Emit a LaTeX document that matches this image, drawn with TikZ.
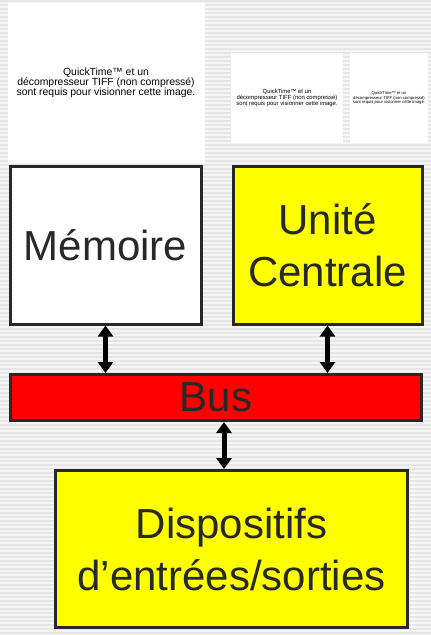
\documentclass[tikz,border=0pt]{standalone}
\usepackage{fontspec}
\setmainfont{Liberation Sans}
\usetikzlibrary{arrows.meta,positioning}
\definecolor{jaune}{RGB}{255,255,0}
\definecolor{rouge}{RGB}{255,0,0}
\definecolor{trait}{RGB}{40,40,40}
\definecolor{fond}{RGB}{245,245,245}
\definecolor{raie}{RGB}{230,230,230}
\tikzset{
  bloc/.style={draw=trait, text=trait, line width=3pt, align=center, inner sep=0pt, font=\fontsize{42}{52}\selectfont},
  mem/.style={bloc, fill=white},
  cpu/.style={bloc, fill=jaune},
  bus/.style={bloc, fill=rouge},
  es/.style={bloc, fill=jaune},
  image/.style={fill=white, align=center, inner sep=0pt},
  arrow/.style={{Triangle[width=15pt,length=11pt]}-{Triangle[width=15pt,length=11pt]}, line width=5pt}
}

\begin{document}
\begin{tikzpicture}[x=1pt, y=-1pt]
    \useasboundingbox (0,0) rectangle (431,635);
    % fond raye
    \fill[fond] (0,0) rectangle (431,635);
    \foreach \y in {1,5,...,633}
      \draw[raie, line width=1.5pt] (0,\y) -- (431,\y);

    % images manquantes
    \node[image, minimum width=197pt, minimum height=160pt, font=\fontsize{10.4}{9.8}\selectfont] (qt1) at (106,83)
      {QuickTime™ et un\\décompresseur TIFF (non compressé)\\sont requis pour visionner cette image.};
    \node[image, minimum width=112pt, minimum height=90pt, font=\fontsize{5.9}{5.8}\selectfont] (qt2) at (287,98)
      {QuickTime™ et un\\décompresseur TIFF (non compressé)\\sont requis pour visionner cette image.};
    \node[image, minimum width=78pt, minimum height=90pt, font=\fontsize{4.2}{4.3}\selectfont] (qt3) at (389,98)
      {QuickTime™ et un\\décompresseur TIFF (non compressé)\\sont requis pour visionner cette image.};

    \node[mem, minimum width=191pt, minimum height=158pt] (mem) at (105.5,245) {Mémoire};
    \node[cpu, minimum width=189pt, minimum height=158pt, right=29pt of mem] (cpu) {Unité\\Centrale};
    \node[bus, minimum width=411pt, minimum height=46pt] (bus) at (216,397.5) {Bus};
    \node[es, minimum width=352pt, minimum height=157pt, below=47pt of bus, xshift=15.5pt] (es) {Dispositifs\\d’entrées/sorties};

    \draw[arrow] (mem.south) -- (mem.south |- bus.north);
    \draw[arrow] (cpu.south) -- (cpu.south |- bus.north);
    \draw[arrow] ([xshift=8pt]bus.south) -- ([xshift=8pt]bus.south |- es.north);
  \end{tikzpicture}
\end{document}
